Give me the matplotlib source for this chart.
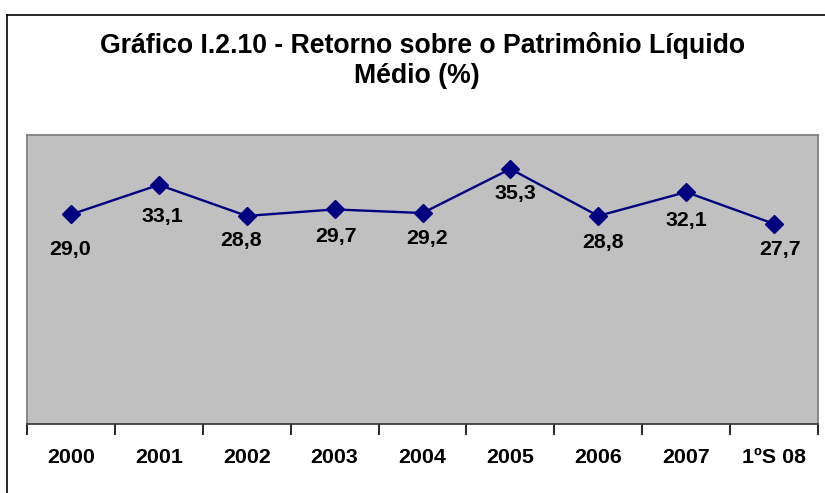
import matplotlib
matplotlib.use("Agg")
import matplotlib.pyplot as plt
from matplotlib.lines import Line2D
from matplotlib.ticker import FixedLocator

categories = ["2000", "2001", "2002", "2003", "2004", "2005", "2006", "2007", "1ºS 08"]
values = [29.0, 33.1, 28.8, 29.7, 29.2, 35.3, 28.8, 32.1, 27.7]
labels = ["29,0", "33,1", "28,8", "29,7", "29,2", "35,3", "28,8", "32,1", "27,7"]

# label placement offsets in pixels (layout only)
label_dx = [-1, 4, -6, 1, 5, 5, 5, 0, 6]
label_dy = [35, 32, 25, 27, 25, 25, 27, 28, 26]

plt.rcParams['font.family'] = ['Liberation Sans', 'DejaVu Sans']

W, H = 825, 493
fig = plt.figure(figsize=(W / 100, H / 100), dpi=100)
fig.patch.set_facecolor("white")

# outer chart border (left and top)
fig.add_artist(Line2D([7 / W, 7 / W], [0, 1 - 15 / H], transform=fig.transFigure, color="black", lw=1.2))
fig.add_artist(Line2D([7 / W, 1], [1 - 15 / H, 1 - 15 / H], transform=fig.transFigure, color="black", lw=1.2))

left, right, top, bottom = 27, 818, 135, 424
ax = fig.add_axes([left / W, 1 - bottom / H, (right - left) / W, (bottom - top) / H])
ax.set_facecolor("#C0C0C0")
for s in ax.spines.values():
    s.set_color("#808080")
    s.set_linewidth(1.3)
ax.spines['bottom'].set_color("#404040")

n = len(categories)
x = list(range(n))
ax.plot(x, values, color="#000080", lw=1.7, marker="D", ms=9,
        markerfacecolor="#000080", markeredgecolor="#000080", zorder=3)

for xi, v, lab, dx, dy in zip(x, values, labels, label_dx, label_dy):
    ax.annotate(lab, (xi, v), xytext=(dx, -dy), textcoords="offset pixels",
                ha="center", va="center", fontsize=15.4, fontweight="bold", color="black")

ax.set_xlim(-0.5, n - 0.5)
ax.set_ylim(0, 40)
ax.set_yticks([])

ax.set_xticks(x)
ax.set_xticklabels(categories, fontsize=15.4, fontweight="bold")
ax.tick_params(axis="x", which="major", length=0, pad=17)
ax.xaxis.set_minor_locator(FixedLocator([i - 0.5 for i in range(n + 1)]))
ax.tick_params(axis="x", which="minor", length=8, width=1.2, color="black", direction="out")

fig.text(423 / W, 1 - 53 / H, "Gráfico I.2.10 - Retorno sobre o Patrimônio Líquido",
         ha="center", va="baseline", fontsize=19.2, fontweight="bold")
fig.text(417 / W, 1 - 83 / H, "Médio (%)",
         ha="center", va="baseline", fontsize=19.2, fontweight="bold")

fig.savefig("out.png", dpi=100)
